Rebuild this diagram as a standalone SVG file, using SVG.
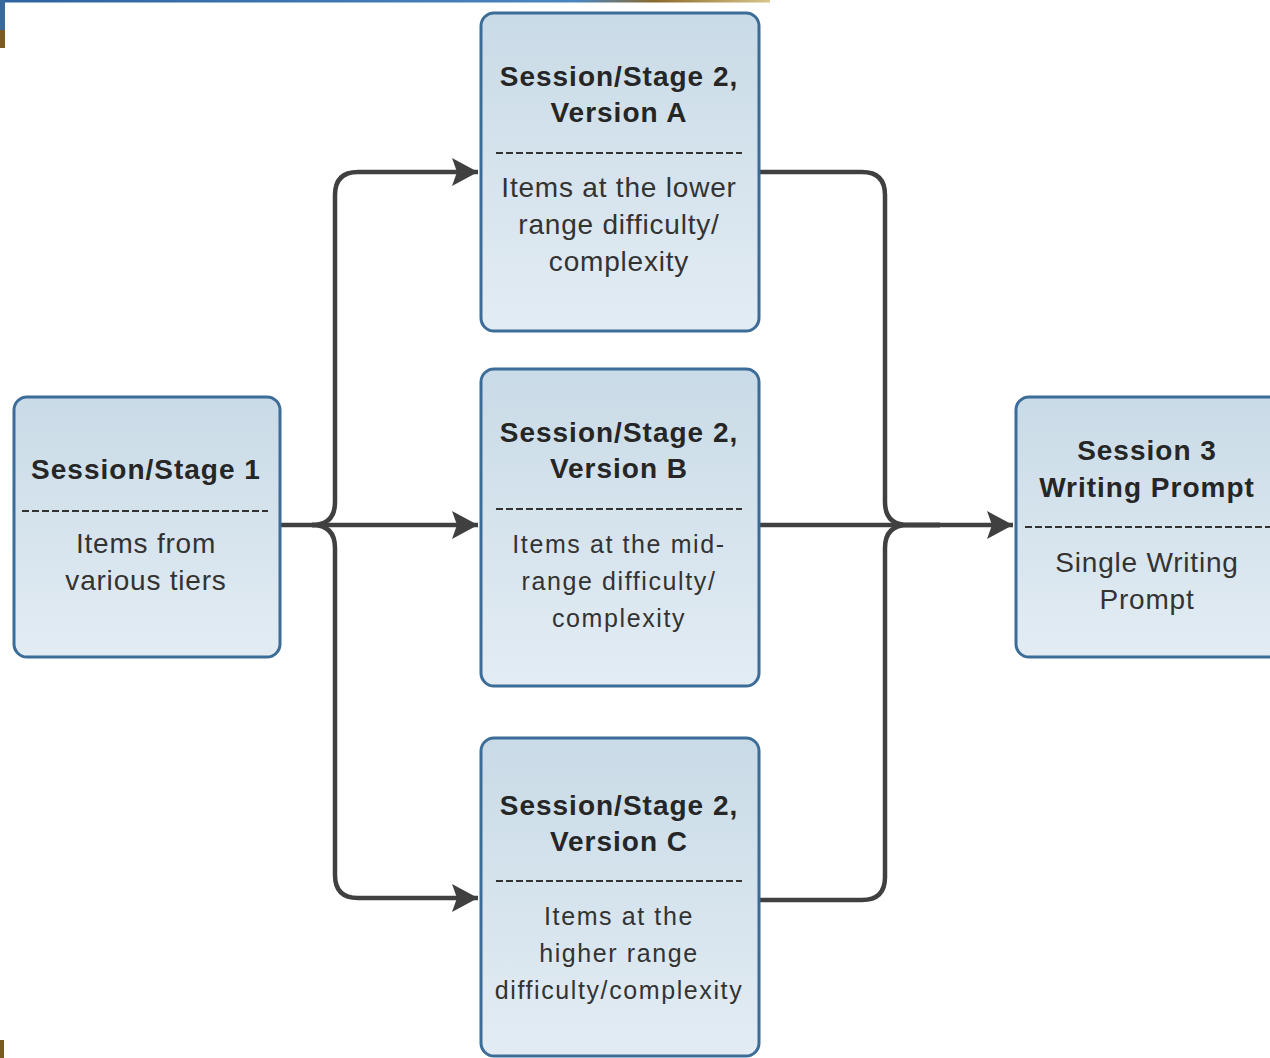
<svg xmlns="http://www.w3.org/2000/svg" width="1270" height="1058" viewBox="0 0 1270 1058">
<defs>
<linearGradient id="fill" x1="0" y1="0" x2="0" y2="1">
<stop offset="0" stop-color="#c9dbe7"/>
<stop offset="1" stop-color="#e3ecf3"/>
</linearGradient>
<linearGradient id="bar" x1="0" y1="0" x2="1" y2="0">
<stop offset="0" stop-color="#2f62a0"/>
<stop offset="0.75" stop-color="#4a86c0"/>
<stop offset="0.85" stop-color="#8a6a2a"/>
<stop offset="1" stop-color="#d9c58a"/>
</linearGradient>
<marker id="arr" markerUnits="userSpaceOnUse" markerWidth="28" markerHeight="30" refX="26" refY="14" orient="auto">
<path d="M0,0 L26,14 L0,28 L5,14 Z" fill="#404040"/>
</marker>
</defs>
<style>
.box{fill:url(#fill);stroke:#3c6d98;stroke-width:3}
.t{font-family:"Liberation Sans",Arial,sans-serif;font-size:28px;font-weight:bold;fill:#262626;text-anchor:middle;letter-spacing:1px}
.b{font-family:"Liberation Sans",Arial,sans-serif;font-size:28px;fill:#333;text-anchor:middle;letter-spacing:0.8px}
.s{font-family:"Liberation Sans",Arial,sans-serif;font-size:25px;fill:#333;text-anchor:middle;letter-spacing:1.6px}
.d{stroke:#333;stroke-width:2;stroke-dasharray:7 3;fill:none}
.c{fill:none;stroke:#404040;stroke-width:4.5}
</style>
<rect width="1270" height="1058" fill="#fff"/>
<rect x="0" y="0" width="770" height="2.5" fill="url(#bar)"/>
<rect x="0" y="0" width="5" height="30" fill="#3a6a9c"/>
<rect x="0" y="30" width="5" height="18" fill="#7a5a22"/>
<rect x="0" y="1040" width="4" height="18" fill="#7a5a22"/>

<g id="connectors">
<path class="c" d="M280,525 H478" marker-end="url(#arr)"/>
<path class="c" d="M312,525 Q335,525 335,502 V195 Q335,172 358,172 H478" marker-end="url(#arr)"/>
<path class="c" d="M312,525 Q335,525 335,548 V875 Q335,898 358,898 H478" marker-end="url(#arr)"/>
<path class="c" d="M759,525 H1013" marker-end="url(#arr)"/>
<path class="c" d="M759,172 H862 Q885,172 885,195 V502 Q885,525 908,525 H940"/>
<path class="c" d="M759,900 H862 Q885,900 885,877 V548 Q885,525 908,525 H940"/>
</g>

<g id="stage1">
<rect class="box" x="14" y="397" width="266" height="260" rx="13"/>
<text class="t" x="146" y="479">Session/Stage 1</text>
<line class="d" x1="22" y1="511" x2="268" y2="511"/>
<text class="b" x="146" y="553">Items from</text>
<text class="b" x="146" y="590">various tiers</text>
</g>

<g id="stage2a">
<rect class="box" x="481" y="13" width="278" height="318" rx="13"/>
<text class="t" x="619" y="86">Session/Stage 2,</text>
<text class="t" x="619" y="122">Version A</text>
<line class="d" x1="496" y1="153" x2="742" y2="153"/>
<text class="b" x="619" y="197">Items at the lower</text>
<text class="b" x="619" y="234">range difficulty/</text>
<text class="b" x="619" y="271">complexity</text>
</g>

<g id="stage2b">
<rect class="box" x="481" y="369" width="278" height="317" rx="13"/>
<text class="t" x="619" y="442">Session/Stage 2,</text>
<text class="t" x="619" y="478">Version B</text>
<line class="d" x1="496" y1="509" x2="742" y2="509"/>
<text class="s" x="619" y="553">Items at the mid-</text>
<text class="s" x="619" y="590">range difficulty/</text>
<text class="s" x="619" y="627">complexity</text>
</g>

<g id="stage2c">
<rect class="box" x="481" y="738" width="278" height="318" rx="13"/>
<text class="t" x="619" y="815">Session/Stage 2,</text>
<text class="t" x="619" y="851">Version C</text>
<line class="d" x1="496" y1="881" x2="742" y2="881"/>
<text class="s" x="619" y="925">Items at the</text>
<text class="s" x="619" y="962">higher range</text>
<text class="s" x="619" y="999">difficulty/complexity</text>
</g>

<g id="session3">
<rect class="box" x="1016" y="397" width="270" height="260" rx="13"/>
<text class="t" x="1147" y="460">Session 3</text>
<text class="t" x="1147" y="497">Writing Prompt</text>
<line class="d" x1="1025" y1="527" x2="1270" y2="527"/>
<text class="b" x="1147" y="572">Single Writing</text>
<text class="b" x="1147" y="609">Prompt</text>
</g>
</svg>
